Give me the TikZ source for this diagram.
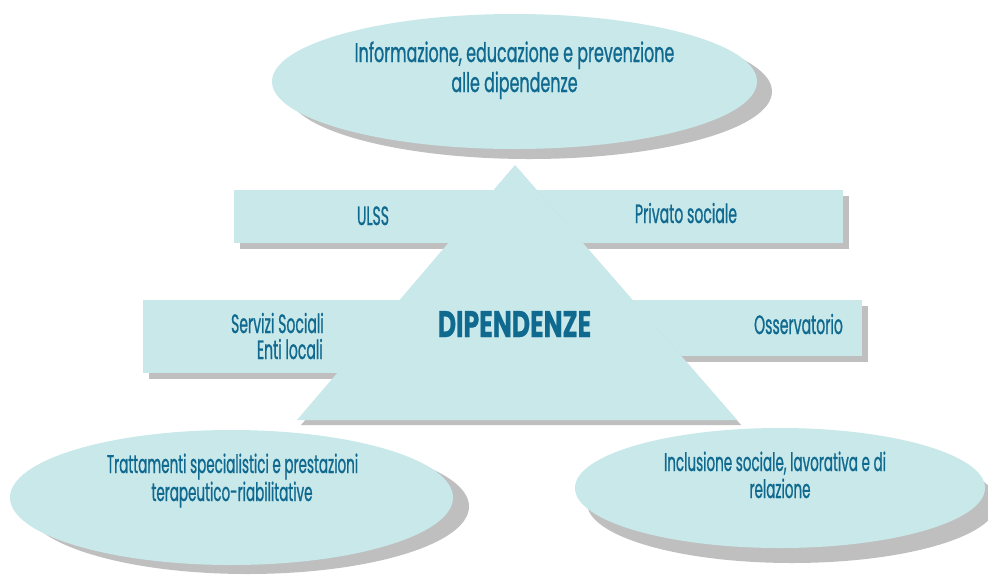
\documentclass[tikz,border=0pt]{standalone}
\usepackage{fontspec}
\setmainfont{Poppins}[FakeStretch=0.53, FakeBold=0.8]
\newfontfamily\widefont{Poppins}[FakeStretch=0.59, FakeBold=0.8]
\newfontfamily\dipfont{Poppins}[FakeStretch=0.68, FakeBold=0.6]
\usetikzlibrary{shapes.geometric,shadows}
\definecolor{cfill}{HTML}{C8E8EA}
\definecolor{cshad}{HTML}{BFBFBF}
\definecolor{ctext}{HTML}{10698F}
\begin{document}
\begin{tikzpicture}[x=1pt,y=-1pt,
  bubble/.style={ellipse, fill=cfill, inner sep=0pt},
  bar/.style={fill=cfill, drop shadow={shadow xshift=6pt, shadow yshift=-6pt, fill=cshad, opacity=1}},
  lbl/.style={text=ctext, font=\fontsize{25.5}{30}\selectfont, inner sep=0pt, anchor=base},
  barlbl/.style={lbl, font=\fontsize{26.5}{30}\selectfont},
  toplbl/.style={lbl, font=\widefont\fontsize{27}{30}\selectfont},
  big/.style={text=ctext, font=\dipfont\fontsize{37}{40}\selectfont\bfseries, inner sep=0pt, anchor=base}]
\useasboundingbox[fill=white] (0,0) rectangle (988,574);
% bars
\path[bar] (234,190) rectangle (843,243);
\path[bar] (143,300) rectangle (520,373);
\path[bar] (520,300) rectangle (862,356);
% triangle
\path[fill=cfill, drop shadow={shadow xshift=4pt, shadow yshift=-5pt, fill=cshad, opacity=1}]
  (515,165) coordinate (apex) -- (737,420) coordinate (br) -- (297,420) coordinate (bl) -- cycle;
% ellipses
\node[bubble, minimum width=485pt, minimum height=135pt,
  drop shadow={shadow xshift=15pt, shadow yshift=-10pt, fill=cshad, opacity=1}] (top) at (514.5,81.5) {};
\node[bubble, minimum width=443pt, minimum height=135pt,
  drop shadow={shadow xshift=16pt, shadow yshift=-9pt, fill=cshad, opacity=1}] (bl) at (231.5,497.5) {};
\node[bubble, minimum width=410pt, minimum height=120pt,
  drop shadow={shadow xshift=12pt, shadow yshift=-15pt, fill=cshad, opacity=1}] (br) at (780,488) {};
% texts
\node[toplbl] (t1a) at (514.5,62) {Informazione, educazione e prevenzione};
\node[toplbl] (t1b) at (514.5,92) {alle dipendenze};
\node[barlbl] (ulss) at (373,225) {ULSS};
\node[barlbl] (priv) at (686,223) {Privato sociale};
\node[barlbl, anchor=base east] (serv) at (324,333) {Servizi Sociali};
\node[barlbl, anchor=base east] (enti) at (323,359) {Enti locali};
\node[big] (dip) at (514.5,337) {DIPENDENZE};
\node[barlbl] (oss) at (798.5,334) {Osservatorio};
\node[lbl] (t2a) at (232.5,473) {Trattamenti specialistici e prestazioni};
\node[lbl] (t2b) at (232,501) {terapeutico-riabilitative};
\node[lbl] (t3a) at (775,471) {Inclusione sociale, lavorativa e di};
\node[lbl] (t3b) at (780,498) {relazione};
\end{tikzpicture}
\end{document}
